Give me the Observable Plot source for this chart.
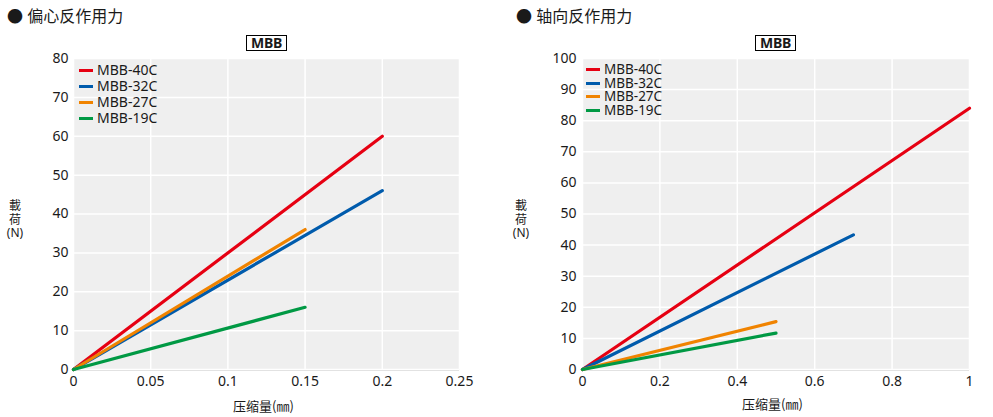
<!DOCTYPE html>
<html><head><meta charset="utf-8">
<script src="https://cdn.jsdelivr.net/npm/d3@7"></script>
<script src="https://cdn.jsdelivr.net/npm/@observablehq/plot@0.6"></script>
<style>
html,body{margin:0;padding:0;background:#fff;}
#wrap{position:relative;width:993px;height:417px;overflow:hidden;font-family:"Noto Sans","Noto Sans CJK SC",sans-serif;color:#1a1a1a;}
.abs{position:absolute;white-space:nowrap;}
.title{font-size:16px;line-height:16px;}
.mbb{font-weight:bold;font-size:14px;line-height:14px;border:1px solid #000;padding:0px 4px;letter-spacing:-0.3px;}
.ylab{font-size:12px;line-height:13.5px;text-align:center;width:20px;}
.xlab{font-size:13px;font-family:"Noto Sans CJK SC",sans-serif;}
.leg .row{display:flex;align-items:center;}
.leg .sw{width:14px;height:3px;margin-right:4px;}
.leg .tx{display:inline-block;overflow:visible;}
</style></head>
<body><div id="wrap"></div>
<script>
// ---- data ----
const seriesNames = ["MBB-40C", "MBB-32C", "MBB-27C", "MBB-19C"];
const seriesColors = ["#e60012", "#005bac", "#f08300", "#009944"];
// 偏心反作用力: end points (lines start at 0,0)
const eccStroke = [0.2, 0.2, 0.15, 0.15];
const eccLoad = [60, 46, 36, 16];
// 轴向反作用力
const axStroke = [1.0, 0.7, 0.5, 0.5];
const axLoad = [84, 43.3, 15.4, 11.7];
const eccXTicks = [0, 0.05, 0.1, 0.15, 0.2, 0.25];
const eccYTicks = [0, 10, 20, 30, 40, 50, 60, 70, 80];
const axXTicks = [0, 0.2, 0.4, 0.6, 0.8, 1];
const axYTicks = [0, 10, 20, 30, 40, 50, 60, 70, 80, 90, 100];

function rows(xs, ys) {
  const out = [];
  seriesNames.forEach((s, i) => {
    out.push({series: s, x: 0, y: 0});
    out.push({series: s, x: xs[i], y: ys[i]});
  });
  return out;
}

function makePlot(data, xDom, xTicks, yDom, yTicks, opts) {
  return Plot.plot({
    width: opts.width, height: 417,
    marginLeft: opts.ml, marginRight: opts.mr, marginTop: 58, marginBottom: 48,
    style: {fontFamily: '"Noto Sans","Noto Sans CJK SC",sans-serif', fontSize: "14px", color: "#1a1a1a", background: "transparent"},
    x: {domain: xDom},
    y: {domain: yDom},
    color: {domain: seriesNames, range: seriesColors},
    marks: [
      Plot.frame({fill: "#efefef", stroke: null}),
      Plot.gridX(xTicks, {stroke: "#fff", strokeOpacity: 1, strokeWidth: 1.5}),
      Plot.gridY(yTicks, {stroke: "#fff", strokeOpacity: 1, strokeWidth: 1.5}),
      Plot.ruleY([0], {stroke: "#e2e2e2", dy: 1}),
      Plot.axisX({ticks: xTicks, tickSize: 0, tickPadding: 7, label: null, tickFormat: d => String(d)}),
      Plot.axisY({ticks: yTicks, tickSize: 0, tickPadding: opts.tp, label: null}),
      Plot.line(data, {x: "x", y: "y", z: "series", stroke: "series", strokeWidth: 3.2, strokeLinecap: "round"})
    ]
  });
}

const wrap = document.getElementById("wrap");
const p1 = makePlot(rows(eccStroke, eccLoad), [0, 0.25], eccXTicks, [0, 80], eccYTicks, {width: 496, ml: 73, mr: 37, tp: 5});
const p2 = makePlot(rows(axStroke, axLoad), [0, 1], axXTicks, [0, 100], axYTicks, {width: 497, ml: 86, mr: 24, tp: 6});
p1.style.position = "absolute"; p1.style.left = "0px"; p1.style.top = "0px";
p2.style.position = "absolute"; p2.style.left = "496px"; p2.style.top = "0px";
wrap.appendChild(p1); wrap.appendChild(p2);

function add(html, cls, css) {
  const d = document.createElement("div");
  d.className = "abs " + cls;
  d.innerHTML = html;
  Object.assign(d.style, css);
  wrap.appendChild(d);
  return d;
}
add("● 偏心反作用力", "title", {left: "7px", top: "8px"});
add("● 轴向反作用力", "title", {left: "516px", top: "8px"});
add("MBB", "mbb", {left: "246px", top: "35px"});
add("MBB", "mbb", {left: "755px", top: "35px"});
add("載<br>荷<br>(N)", "ylab", {left: "5px", top: "199px"});
add("載<br>荷<br>(N)", "ylab", {left: "511px", top: "199px"});
add("压缩量(㎜)", "xlab", {left: "233px", top: "396px"});
add("压缩量(㎜)", "xlab", {left: "742px", top: "394px"});

function legend(left, top, rowH, fs) {
  const html = seriesNames.map((s, i) =>
    `<div class="row" style="height:${rowH}px"><div class="sw" style="background:${seriesColors[i]}"></div><span class="tx" style="font-size:${fs}px;line-height:${rowH}px;height:${rowH}px">${s}</span></div>`).join("");
  add(html, "leg", {left: left + "px", top: top + "px"});
}
legend(79, 62, 16, 14);
legend(586, 63, 13.5, 13.5);
</script></body></html>
